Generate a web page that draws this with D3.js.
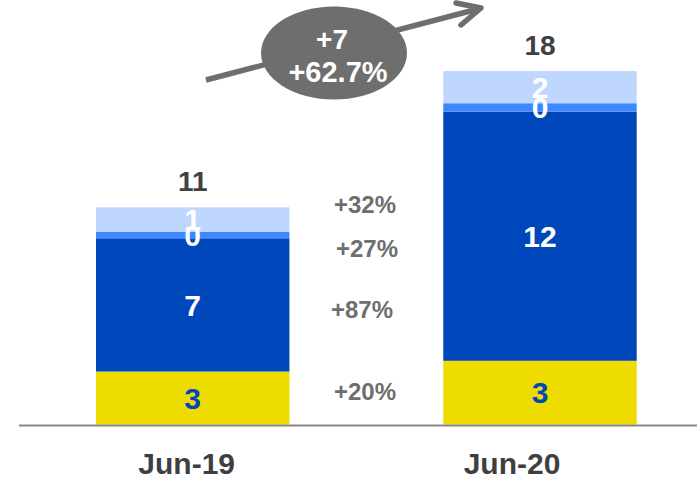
<!DOCTYPE html>
<html>
<head>
<meta charset="utf-8">
<script src="https://cdn.jsdelivr.net/npm/d3@7"></script>
<style>
  html, body { margin: 0; padding: 0; background: #fff; }
  svg { display: block; font-family: "Liberation Sans", Arial, sans-serif; font-weight: bold; }
</style>
</head>
<body>
<svg id="chart" width="697" height="478"></svg>
<script>
// Periods on the x axis
const periods = ["Jun-19", "Jun-20"];

// Stacked components (bottom to top), one value per period
const seriesNames = ["core", "main", "small", "other"];
const coreValues  = [2.65, 3.19];
const mainValues  = [6.67, 12.47];
const smallValues = [0.33, 0.42];
const otherValues = [1.22, 1.61];

const seriesColors = ["#EEDC00", "#0047BB", "#3D87FF", "#BFD6FF"];
const labelColors  = ["#0047BB", "#ffffff", "#ffffff", "#ffffff"];

const svg = d3.select("#chart");
const W = 697, H = 478;
const baseY = 424.5;

const rows = periods.map((p, i) => ({
  period: p,
  core: coreValues[i], main: mainValues[i], small: smallValues[i], other: otherValues[i]
}));
const stacked = d3.stack().keys(seriesNames)(rows);
const totals = rows.map(r => seriesNames.reduce((s, k) => s + r[k], 0));

const x = d3.scaleBand().domain(periods).range([96, 636.7]).paddingInner(0.443).paddingOuter(0);
const y = d3.scaleLinear().domain([0, 20]).range([baseY, baseY - 20 * 19.98]);

// bars
const layer = svg.append("g").selectAll("g").data(stacked).join("g")
  .attr("fill", (d, i) => seriesColors[i]);
layer.selectAll("rect").data(d => d).join("rect")
  .attr("x", d => x(d.data.period))
  .attr("width", x.bandwidth())
  .attr("y", d => y(d[1]))
  .attr("height", d => y(d[0]) - y(d[1]));

// segment value labels
const fmt0 = d3.format(".0f");
stacked.forEach((s, si) => {
  svg.append("g").selectAll("text").data(s).join("text")
    .attr("x", d => x(d.data.period) + x.bandwidth() / 2)
    .attr("y", d => y((d[0] + d[1]) / 2))
    .attr("dy", "0.36em")
    .attr("text-anchor", "middle")
    .attr("font-size", 30)
    .attr("fill", labelColors[si])
    .text(d => fmt0(d[1] - d[0]));
});

// totals above bars
svg.append("g").selectAll("text").data(periods).join("text")
  .attr("x", (p) => x(p) + x.bandwidth() / 2)
  .attr("y", (p, i) => y(totals[i]) - 16)
  .attr("text-anchor", "middle")
  .attr("font-size", 28)
  .attr("fill", "#404040")
  .text((p, i) => fmt0(totals[i]));

// growth per component, between the bars
const growthOffsets = [-6.5, 4, 13, -15.5];
const growthX = [365, 362, 367, 365];
const pct = d3.format("+.0%");
seriesNames.forEach((k, si) => {
  const s = stacked[si][0];
  const g = rows[1][k] / rows[0][k] - 1;
  svg.append("text")
    .attr("x", growthX[si])
    .attr("y", y((s[0] + s[1]) / 2) + growthOffsets[si])
    .attr("dy", "0.36em")
    .attr("text-anchor", "middle")
    .attr("font-size", 24)
    .attr("fill", "#6e6e6e")
    .text(pct(g));
});

// baseline axis
const axis = d3.axisBottom(x).tickSize(0).tickFormat(() => "");
const axisG = svg.append("g").attr("transform", `translate(0,${baseY + 1})`).call(axis);
axisG.select(".domain").remove();
svg.append("line")
  .attr("x1", 19).attr("x2", W).attr("y1", baseY + 1).attr("y2", baseY + 1)
  .attr("stroke", "#888").attr("stroke-width", 2);

// category labels
const catShift = [-6, -28];
svg.append("g").selectAll("text").data(periods).join("text")
  .attr("x", (p, i) => x(p) + x.bandwidth() / 2 + catShift[i])
  .attr("y", 474)
  .attr("text-anchor", "middle")
  .attr("font-size", 30)
  .attr("fill", "#3f3f3f")
  .text(p => p);

// overall change: arrow behind an ellipse badge
const grey = "#6e6e6e";
const a0 = [206, 80], a1 = [481, 8];
svg.append("line")
  .attr("x1", a0[0]).attr("y1", a0[1]).attr("x2", a1[0] - 3).attr("y2", a1[1] + 1)
  .attr("stroke", grey).attr("stroke-width", 5.5);
svg.append("path")
  .attr("d", `M${a1[0] - 25},${a1[1] - 5} L${a1[0]},${a1[1]} L${a1[0] - 20},${a1[1] + 17}`)
  .attr("fill", "none").attr("stroke", grey).attr("stroke-width", 5.5)
  .attr("stroke-linecap", "round").attr("stroke-linejoin", "round");

svg.append("ellipse")
  .attr("cx", 334).attr("cy", 53).attr("rx", 73).attr("ry", 46.5)
  .attr("fill", grey);

const diff = totals[1] - totals[0];
const growth = totals[1] / totals[0] - 1;
svg.append("text")
  .attr("x", 332).attr("y", 39).attr("dy", "0.36em")
  .attr("text-anchor", "middle").attr("font-size", 28).attr("fill", "#fff")
  .text(d3.format("+.0f")(diff));
svg.append("text")
  .attr("x", 338).attr("y", 72).attr("dy", "0.36em")
  .attr("text-anchor", "middle").attr("font-size", 29).attr("fill", "#fff")
  .text(d3.format("+.1%")(growth));
</script>
</body>
</html>
